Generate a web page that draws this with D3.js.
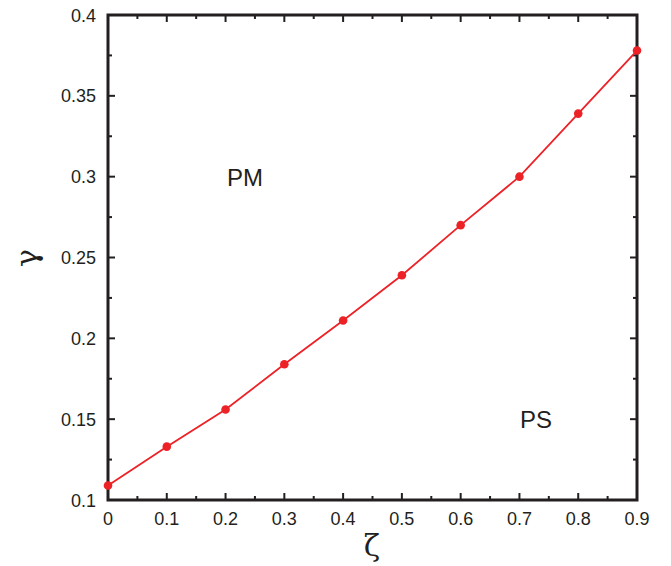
<!DOCTYPE html>
<html>
<head>
<meta charset="utf-8">
<script src="https://cdn.jsdelivr.net/npm/d3@7"></script>
<style>
  body { margin: 0; background: #fff; }
  svg { display: block; font-family: "Liberation Sans", Arial, sans-serif; }
</style>
</head>
<body>
<svg id="chart" width="671" height="566"></svg>
<script>
// data
var zeta = [0, 0.1, 0.2, 0.3, 0.4, 0.5, 0.6, 0.7, 0.8, 0.9];
var gamma = [0.109, 0.133, 0.156, 0.184, 0.211, 0.239, 0.270, 0.300, 0.339, 0.378];
var xTicks = [0, 0.1, 0.2, 0.3, 0.4, 0.5, 0.6, 0.7, 0.8, 0.9];
var yTicks = [0.1, 0.15, 0.2, 0.25, 0.3, 0.35, 0.4];
var regions = [{label: "PM", x: 0.233, y: 0.3}, {label: "PS", x: 0.728, y: 0.15}];

var svg = d3.select("#chart");
var plotL = 108, plotR = 637, plotT = 15, plotB = 500;
var red = "#ec2227", ink = "#231f20";

var x = d3.scaleLinear().domain([0, 0.9]).range([plotL, plotR]);
var y = d3.scaleLinear().domain([0.1, 0.4]).range([plotB, plotT]);

var xMinor = d3.range(0.05, 0.9, 0.1);
var yMinor = d3.range(0.125, 0.4, 0.05);

var g = svg.append("g");

// inward ticks on all four sides
function xticks(vals, len, w) {
  vals.forEach(function(v) {
    g.append("line").attr("x1", x(v)).attr("x2", x(v)).attr("y1", plotB).attr("y2", plotB - len)
      .attr("stroke", ink).attr("stroke-width", w);
    g.append("line").attr("x1", x(v)).attr("x2", x(v)).attr("y1", plotT).attr("y2", plotT + len)
      .attr("stroke", ink).attr("stroke-width", w);
  });
}
function yticks(vals, len, w) {
  vals.forEach(function(v) {
    g.append("line").attr("y1", y(v)).attr("y2", y(v)).attr("x1", plotL).attr("x2", plotL + len)
      .attr("stroke", ink).attr("stroke-width", w);
    g.append("line").attr("y1", y(v)).attr("y2", y(v)).attr("x1", plotR).attr("x2", plotR - len)
      .attr("stroke", ink).attr("stroke-width", w);
  });
}
xticks(xTicks, 7, 2);
xticks(xMinor, 4, 2);
yticks(yTicks, 7, 2);
yticks(yMinor, 4, 2);

g.append("rect").attr("x", plotL).attr("y", plotT)
  .attr("width", plotR - plotL).attr("height", plotB - plotT)
  .attr("fill", "none").attr("stroke", ink).attr("stroke-width", 3);

// tick labels
g.selectAll("text.xl").data(xTicks).enter().append("text")
  .attr("x", function(d) { return x(d); }).attr("y", 525)
  .attr("text-anchor", "middle").attr("font-size", 18).attr("fill", ink)
  .text(function(d) { return d3.format("")(d); });

g.selectAll("text.yl").data(yTicks).enter().append("text")
  .attr("x", 96).attr("y", function(d) { return y(d) + 6.5; })
  .attr("text-anchor", "end").attr("font-size", 18).attr("fill", ink)
  .text(function(d) { return d3.format("")(d); });

// axis titles
svg.append("text").attr("x", 372).attr("y", 556).attr("text-anchor", "middle")
  .attr("font-family", "DejaVu Serif, serif").attr("font-size", 30).attr("fill", ink).text("ζ");
svg.append("text").attr("transform", "translate(37,258) rotate(-90)").attr("text-anchor", "middle")
  .attr("font-family", "DejaVu Serif, serif").attr("font-size", 30).attr("fill", ink).text("γ");

// region labels
svg.selectAll("text.reg").data(regions).enter().append("text")
  .attr("x", function(d) { return x(d.x); }).attr("y", function(d) { return y(d.y) + 9; })
  .attr("text-anchor", "middle").attr("font-size", 24).attr("fill", ink)
  .text(function(d) { return d.label; });

// curve and markers
var pts = zeta.map(function(z, i) { return [z, gamma[i]]; });
svg.append("path").datum(pts)
  .attr("d", d3.line().x(function(d) { return x(d[0]); }).y(function(d) { return y(d[1]); }))
  .attr("fill", "none").attr("stroke", red).attr("stroke-width", 1.8);
svg.selectAll("circle").data(pts).enter().append("circle")
  .attr("cx", function(d) { return x(d[0]); }).attr("cy", function(d) { return y(d[1]); })
  .attr("r", 4.3).attr("fill", red);
</script>
</body>
</html>
